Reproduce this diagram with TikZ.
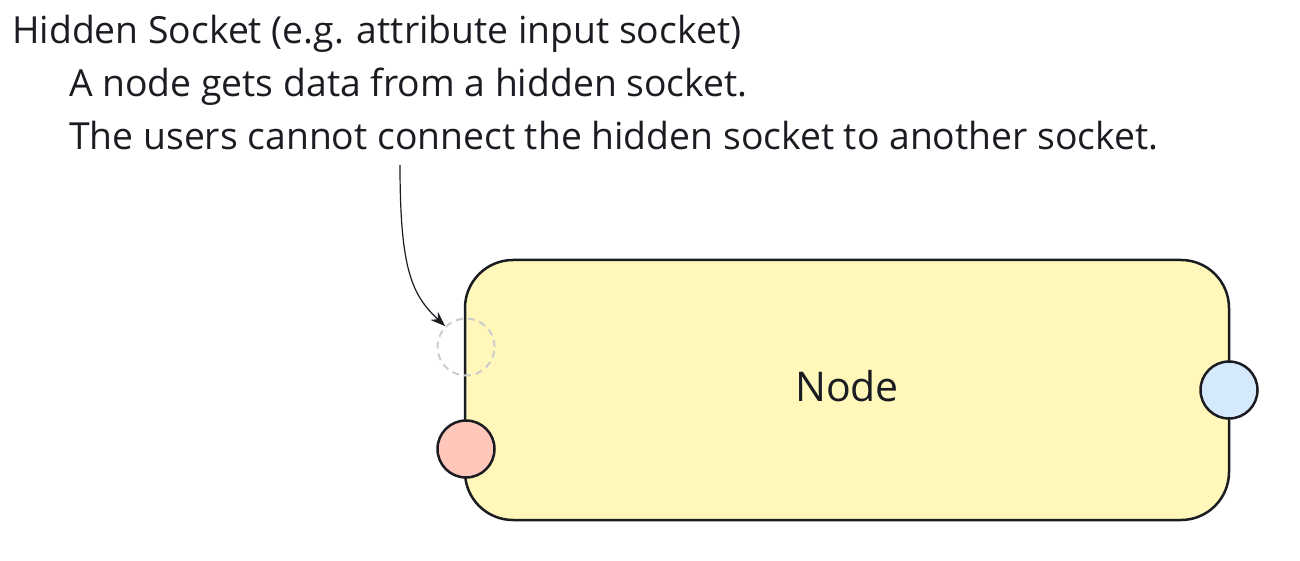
\documentclass[tikz,border=0pt]{standalone}
\usepackage{fontspec}
\setmainfont{Open Sans}
\usetikzlibrary{arrows.meta}
\definecolor{nodefill}{HTML}{FFF8BA}
\definecolor{infill}{HTML}{FFC6BA}
\definecolor{outfill}{HTML}{D5E9FC}
\definecolor{inkcol}{HTML}{1B1B22}

\begin{document}
\begin{tikzpicture}[x=1pt, y=-1pt,
	every node/.style={text=inkcol, inner sep=0pt},
	notetext/.style={anchor=base west, font=\fontsize{37.3}{42}\selectfont},
	nodebox/.style={draw=inkcol, line width=2.5pt, fill=nodefill, rounded corners=48pt, minimum width=764pt, minimum height=260pt, text depth=9pt, font=\fontsize{41}{46}\selectfont},
	socket/.style={circle, draw=inkcol, line width=2.5pt, minimum size=57pt},
	hiddensocket/.style={circle, draw=black!20, dash pattern=on 7pt off 5pt, line width=2pt, minimum size=57pt}]

	\useasboundingbox (0,0) rectangle (1300,561);

	% note
	\node[notetext] (title) at (12, 44) {Hidden Socket (e.g. attribute input socket)};
	\node[notetext] (line1) at (69, 97) {A node gets data from a hidden socket.};
	\node[notetext] (line2) at (69, 150) {The users cannot connect the hidden socket to another socket.};

	% node with its sockets
	\node[nodebox] (box) at (847, 390) {Node};
	\node[hiddensocket] (hidden) at (466, 347) {};
	\node[socket, fill=infill] (input) at (466, 449) {};
	\node[socket, fill=outfill] (output) at (1229, 390) {};

	\coordinate (start) at (400, 165);
	\draw[-{Stealth[length=15pt, width=11pt]}, draw=inkcol, line width=1.2pt] (start) .. controls (400, 270) and (412, 295) .. (hidden.north west);
\end{tikzpicture}
\end{document}
